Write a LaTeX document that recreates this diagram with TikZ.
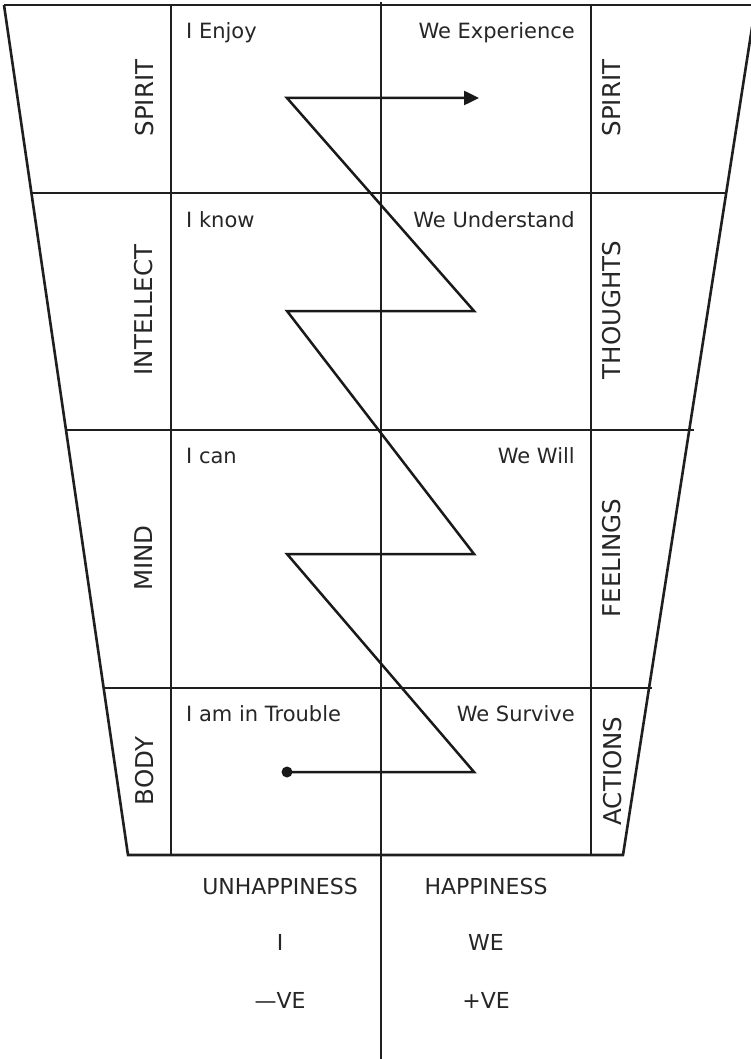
\documentclass[tikz,border=0pt]{standalone}
\usepackage{fontspec}
\setmainfont{DejaVu Sans}
\usetikzlibrary{arrows.meta}
\begin{document}
\begin{tikzpicture}[x=1pt,y=-1pt,
  ln/.style={line width=2.6pt, color=black!88, line cap=butt},
  lbl/.style={font=\fontsize{21}{25}\selectfont, inner sep=0pt, text=black!85},
  lft/.style={lbl, anchor=base west},
  rgt/.style={lbl, anchor=base east},
  side/.style={lbl, font=\fontsize{24.5}{28}\selectfont, rotate=90, anchor=center},
  bot/.style={lbl, font=\fontsize{22}{26}\selectfont, anchor=center},
  zig/.style={line width=2.5pt, color=black!90, line join=miter}]
\useasboundingbox (0,0) rectangle (751,1059);
\fill[white] (0,0) rectangle (751,1059);
\begin{scope}
\clip (0,0) rectangle (751,1059);
% grid corner coordinates
\coordinate (TL) at (4,5);
\coordinate (TR) at (755.5,5);
\coordinate (BL) at (128,855);
\coordinate (BR) at (623,855);
\coordinate (L1) at (31.4,193);  \coordinate (R1) at (727,193);
\coordinate (L2) at (66,430);    \coordinate (R2) at (694,430);
\coordinate (L3) at (103.6,688); \coordinate (R3) at (652,688);
\coordinate (VLt) at (171,5);  \coordinate (VLb) at (171,855);
\coordinate (VRt) at (591,5);  \coordinate (VRb) at (591,855);
\coordinate (Ct) at (381,2);   \coordinate (Cb) at (381,1059);
% outline
\draw[ln] (TL) -- (TR);
\draw[ln] (TL) -- (BL) -- (BR) -- (TR);
\draw[ln] (L1) -- (R1);
\draw[ln] (L2) -- (R2);
\draw[ln] (L3) -- (R3);
\draw[ln] (VLt) -- (VLb);
\draw[ln] (VRt) -- (VRb);
\draw[ln] (Ct) -- (Cb);
\end{scope}
% zigzag path
\coordinate (z0) at (287,772);
\coordinate (z1) at (474,772);
\coordinate (z2) at (287,554);
\coordinate (z3) at (474,554);
\coordinate (z4) at (287,311);
\coordinate (z5) at (474,311);
\coordinate (z6) at (287,98);
\coordinate (z7) at (479,98);
\draw[zig, -{Triangle[length=15pt,width=14pt]}] (z0) -- (z1) -- (z2) -- (z3) -- (z4) -- (z5) -- (z6) -- (z7);
\fill[black!90] (z0) circle (5.5pt);
% cell texts
\node[lft] (t1) at (186,39) {I Enjoy};
\node[rgt] (t2) at (575,39) {We Experience};
\node[lft] (t3) at (186,228) {I know};
\node[rgt] (t4) at (575,228) {We Understand};
\node[lft] (t5) at (186,463) {I can};
\node[rgt] (t6) at (575,463) {We Will};
\node[lft] (t7) at (186,721) {I am in Trouble};
\node[rgt] (t8) at (575,721) {We Survive};
% side labels
\node[side] (s1) at (145,98) {SPIRIT};
\node[side] (s2) at (612,98) {SPIRIT};
\node[side] (s3) at (144,310) {INTELLECT};
\node[side] (s4) at (612,310) {THOUGHTS};
\node[side] (s5) at (144,558) {MIND};
\node[side] (s6) at (612,558) {FEELINGS};
\node[side] (s7) at (145,771) {BODY};
\node[side] (s8) at (613,771) {ACTIONS};
% bottom labels
\node[bot] (b1) at (280,886) {UNHAPPINESS};
\node[bot] (b2) at (486,886) {HAPPINESS};
\node[bot] (b3) at (280,942) {I};
\node[bot] (b4) at (486,942) {WE};
\node[bot] (b5) at (280,1000) {—VE};
\node[bot] (b6) at (486,1000) {+VE};
\end{tikzpicture}
\end{document}
